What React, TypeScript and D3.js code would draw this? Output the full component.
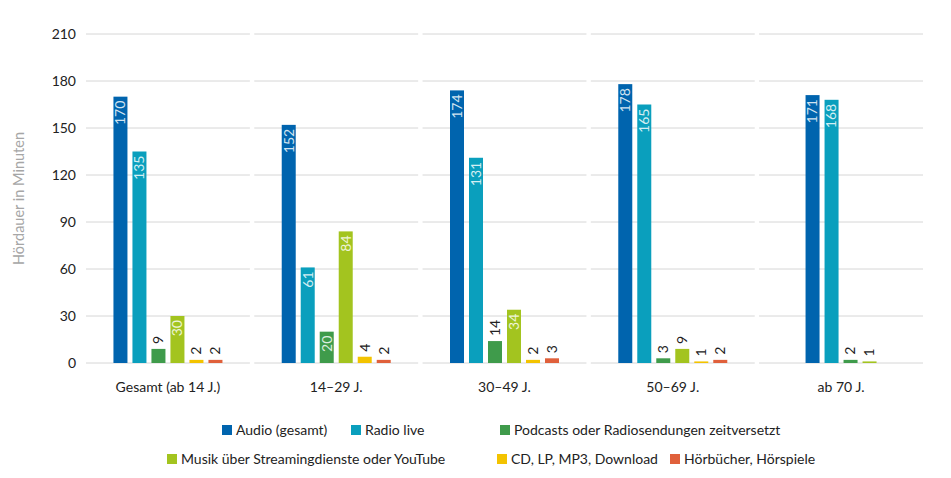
import React, { useEffect, useRef } from "react";
import * as d3 from "d3";

const groups = ["Gesamt (ab 14 J.)", "14–29 J.", "30–49 J.", "50–69 J.", "ab 70 J."];
const seriesNames = [
  "Audio (gesamt)",
  "Radio live",
  "Podcasts oder Radiosendungen zeitversetzt",
  "Musik über Streamingdienste oder YouTube",
  "CD, LP, MP3, Download",
  "Hörbücher, Hörspiele",
];
const seriesColors = ["#0064ae", "#0a9fbd", "#3f9b4b", "#a3c41f", "#f3c300", "#e0603b"];

// one row per group, one value per series (null = no bar)
const values: (number | null)[][] = [
  [170, 135, 9, 30, 2, 2],
  [152, 61, 20, 84, 4, 2],
  [174, 131, 14, 34, 2, 3],
  [178, 165, 3, 9, 1, 2],
  [171, 168, 2, 1, null, null],
];
const yTicks = [0, 30, 60, 90, 120, 150, 180, 210];

// legend rows: series index + column x
const legendRows = [
  [
    { i: 0, x: 222 },
    { i: 1, x: 351 },
    { i: 2, x: 500 },
  ],
  [
    { i: 3, x: 167 },
    { i: 4, x: 497 },
    { i: 5, x: 670 },
  ],
];

const W = 951;
const H = 478;
const FONT = "Lato, 'Open Sans', sans-serif";

const Chart: React.FC = () => {
  const ref = useRef<SVGSVGElement | null>(null);

  useEffect(() => {
    if (!ref.current) return;
    const svg = d3.select(ref.current);
    svg.selectAll("*").remove();

    const top = 34;
    const bottom = 363;
    const step = 19; // bar pitch inside a group
    const barW = 14;

    const y = d3.scaleLinear().domain([0, 210]).range([bottom, top]);
    const x0 = d3.scaleBand().domain(groups).range([86, 923]).paddingInner(0.026).paddingOuter(0);

    // gridlines, split per group
    const grid = svg.append("g");
    groups.forEach((g) => {
      grid
        .selectAll(null)
        .data(yTicks)
        .enter()
        .append("line")
        .attr("x1", x0(g)!)
        .attr("x2", x0(g)! + x0.bandwidth())
        .attr("y1", (d) => y(d))
        .attr("y2", (d) => y(d))
        .attr("stroke", "#d6d6d6")
        .attr("stroke-width", 1);
    });

    // y tick labels
    svg
      .append("g")
      .selectAll("text")
      .data(yTicks)
      .enter()
      .append("text")
      .attr("x", 76)
      .attr("y", (d) => y(d))
      .attr("dy", "0.35em")
      .attr("text-anchor", "end")
      .attr("font-family", FONT)
      .attr("font-size", 14)
      .attr("fill", "#222")
      .text((d) => d);

    // y axis title
    svg
      .append("text")
      .attr("transform", `translate(24, ${(top + bottom) / 2}) rotate(-90)`)
      .attr("text-anchor", "middle")
      .attr("font-family", FONT)
      .attr("font-size", 14.5)
      .attr("fill", "#a6a6a6")
      .text("Hördauer in Minuten");

    // bars: each group centres only the series it has
    type Cell = { g: string; s: string; si: number; v: number; x: number };
    const cells: Cell[] = [];
    values.forEach((row, gi) => {
      const present = seriesNames.filter((_, si) => row[si] !== null);
      const span = present.length * step - (step - barW);
      const x1 = d3
        .scaleBand()
        .domain(present)
        .range([0, span])
        .paddingInner((step - barW) / step)
        .paddingOuter(0);
      const start = x0(groups[gi])! + (x0.bandwidth() - span) / 2;
      row.forEach((v, si) => {
        if (v === null) return;
        cells.push({ g: groups[gi], s: seriesNames[si], si, v, x: start + x1(seriesNames[si])! });
      });
    });

    svg
      .append("g")
      .selectAll("rect")
      .data(cells)
      .enter()
      .append("rect")
      .attr("x", (d) => d.x)
      .attr("y", (d) => y(d.v))
      .attr("width", barW)
      .attr("height", (d) => bottom - y(d.v))
      .attr("fill", (d) => seriesColors[d.si]);

    // value labels
    const labelG = svg.append("g");
    cells.forEach((d) => {
      const cx = d.x + barW / 2;
      const inside = d.v >= 20;
      const ty = inside ? y(d.v) + 4 : y(d.v) - 5;
      labelG
        .append("text")
        .attr("transform", `translate(${cx}, ${ty}) rotate(-90)`)
        .attr("text-anchor", inside ? "end" : "start")
        .attr("dy", "0.35em")
        .attr("font-family", FONT)
        .attr("font-size", 14)
        .attr("fill", inside ? d3.interpolateRgb(seriesColors[d.si], "#ffffff")(0.82) : "#222")
        .text(d.v);
    });

    // group labels
    svg
      .append("g")
      .selectAll("text")
      .data(groups)
      .enter()
      .append("text")
      .attr("x", (g) => x0(g)! + x0.bandwidth() / 2)
      .attr("y", 392)
      .attr("text-anchor", "middle")
      .attr("font-family", FONT)
      .attr("font-size", 14)
      .attr("fill", "#222")
      .text((g) => g);

    // legend
    const leg = svg.append("g");
    legendRows.forEach((row, ri) => {
      const ly = 430 + ri * 29;
      row.forEach((item) => {
        leg
          .append("rect")
          .attr("x", item.x)
          .attr("y", ly - 5)
          .attr("width", 10)
          .attr("height", 10)
          .attr("fill", seriesColors[item.i]);
        leg
          .append("text")
          .attr("x", item.x + 14)
          .attr("y", ly)
          .attr("dy", "0.35em")
          .attr("font-family", FONT)
          .attr("font-size", 14)
          .attr("fill", "#222")
          .text(seriesNames[item.i]);
      });
    });
  }, []);

  return <svg ref={ref} width={W} height={H} style={{ display: "block" }} />;
};

export default function App() {
  return (
    <div style={{ position: "absolute", left: 0, top: 0, width: W, height: H, background: "#fff" }}>
      <Chart />
    </div>
  );
}
